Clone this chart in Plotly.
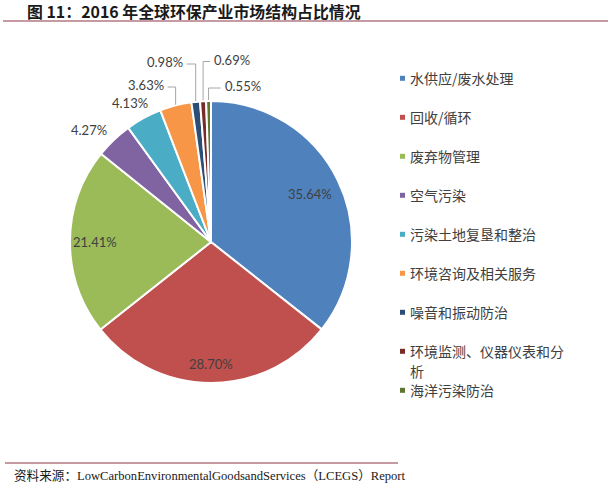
import numpy as np
import plotly.graph_objects as go

# data
categories = ["水供应/废水处理", "回收/循环", "废弃物管理", "空气污染", "污染土地复垦和整治",
              "环境咨询及相关服务", "噪音和振动防治", "环境监测、仪器仪表和分析", "海洋污染防治"]
shares = [35.64, 28.70, 21.41, 4.27, 4.13, 3.63, 0.98, 0.69, 0.55]
# legend rows as wrapped in the source chart
legend_text = ["水供应/废水处理", "回收/循环", "废弃物管理", "空气污染", "污染土地复垦和整治",
               "环境咨询及相关服务", "噪音和振动防治", "环境监测、仪器仪表和分|析", "海洋污染防治"]
colors = ["#4F81BD", "#C0504D", "#9BBB59", "#8064A2", "#4BACC6",
          "#F79646", "#2C4D75", "#772C2A", "#5F7530"]

title = "图 11：2016 年全球环保产业市场结构占比情况"
source = "资料来源：LowCarbonEnvironmentalGoodsandServices（LCEGS）Report"

# geometry (pixels, y downwards)
W, H = 614, 494
cx, cy, R = 211, 242, 141
label_font = "Lato, Open Sans, sans-serif"
cjk_font = "Noto Sans CJK SC"
text_col = "#404040"
rule_col = "#B27884"

# label style: inside labels by radius factor, outside ones by offset / elbow
inside_r = {0: 0.78, 1: 0.865, 2: 0.82}
offset_lbl = {3: (-25, -10), 4: (-14, -15)}
# idx: (elbow y, side, horizontal length)
elbow_lbl = {5: (87, -1, 8), 6: (64, -1, 9), 7: (61.5, 1, 7), 8: (88, 1, 12)}

vals = np.array(shares)
mid = (np.cumsum(vals) - vals / 2) / vals.sum() * 2 * np.pi
sx, sy = np.sin(mid), -np.cos(mid)

fig = go.Figure()
fig.add_trace(go.Pie(
    labels=categories, values=shares, sort=False, direction="clockwise", rotation=0,
    marker=dict(colors=colors, line=dict(color="white", width=2)),
    textinfo="none", hoverinfo="label+percent", showlegend=False,
    domain=dict(x=[(cx - R) / W, (cx + R) / W], y=[1 - (cy + R) / H, 1 - (cy - R) / H]),
))

annotations = []
for i, v in enumerate(shares):
    txt = f"{v:.2f}%"
    if i in inside_r:
        k = inside_r[i]
        annotations.append(dict(x=cx + R * k * sx[i], y=cy + R * k * sy[i], text=txt,
                                showarrow=False, xanchor="center", yanchor="middle"))
    elif i in offset_lbl:
        dx, dy = offset_lbl[i]
        annotations.append(dict(x=cx + R * sx[i] + dx, y=cy + R * sy[i] + dy, text=txt,
                                showarrow=False, xanchor="center", yanchor="middle"))
    else:
        ey, side, ln = elbow_lbl[i]
        ex, eyy = cx + R * sx[i], cy + R * sy[i]
        fig.add_trace(go.Scatter(x=[ex, ex, ex + side * ln], y=[eyy, ey, ey], mode="lines",
                                 line=dict(color="#A6A6A6", width=1), hoverinfo="skip",
                                 showlegend=False))
        annotations.append(dict(x=ex + side * (ln + 2), y=ey - 2, text=txt, showarrow=False,
                                xanchor="left" if side > 0 else "right", yanchor="middle"))
for a in annotations:
    a.update(xref="x", yref="y", font=dict(family=label_font, size=13, color=text_col))

# legend drawn by hand: one row per 39px, wrapped rows take half a step each
ly = 78.3 + 39 * np.arange(len(categories))
fig.add_trace(go.Scatter(x=[402.5] * len(categories), y=ly, mode="markers",
                         marker=dict(symbol="square", size=5, color=colors),
                         hoverinfo="skip", showlegend=False))
for i, t in enumerate(legend_text):
    parts = t.split("|")
    for j, p in enumerate(parts):
        yy = ly[i] + (j * 20.4 if len(parts) > 1 else 0) - (0.6 if len(parts) > 1 else 0)
        annotations.append(dict(x=409, y=yy, xref="x", yref="y", text=p, showarrow=False,
                                xanchor="left", yanchor="middle", borderpad=0,
                                font=dict(family=cjk_font, size=14, color=text_col)))

annotations.append(dict(x=25, y=11, xref="x", yref="y", text=f"<b>{title}</b>", showarrow=False,
                        xanchor="left", yanchor="middle",
                        font=dict(family=cjk_font, size=15.9, color="#1A1A1A")))
annotations.append(dict(x=12, y=476, xref="x", yref="y", text=source, showarrow=False,
                        xanchor="left", yanchor="middle",
                        font=dict(family="Liberation Serif, " + cjk_font, size=12.6, color="#1A1A1A")))

shapes = [
    dict(type="line", xref="x", yref="y", x0=3, x1=608, y0=21, y1=21,
         line=dict(color=rule_col, width=1.5)),
    dict(type="line", xref="x", yref="y", x0=5, x1=398, y0=463, y1=463,
         line=dict(color=rule_col, width=1.5)),
]

fig.update_layout(
    width=W, height=H, margin=dict(l=0, r=0, t=0, b=0),
    paper_bgcolor="white", plot_bgcolor="rgba(0,0,0,0)",
    xaxis=dict(range=[0, W], visible=False, fixedrange=True),
    yaxis=dict(range=[H, 0], visible=False, fixedrange=True),
    annotations=annotations, shapes=shapes, showlegend=False,
)

# page body has a default 8px margin; drop it so the figure sits at the window corner
fig.write_html("out.html", config={"displayModeBar": False},
               post_script="document.body.style.margin='0';")
